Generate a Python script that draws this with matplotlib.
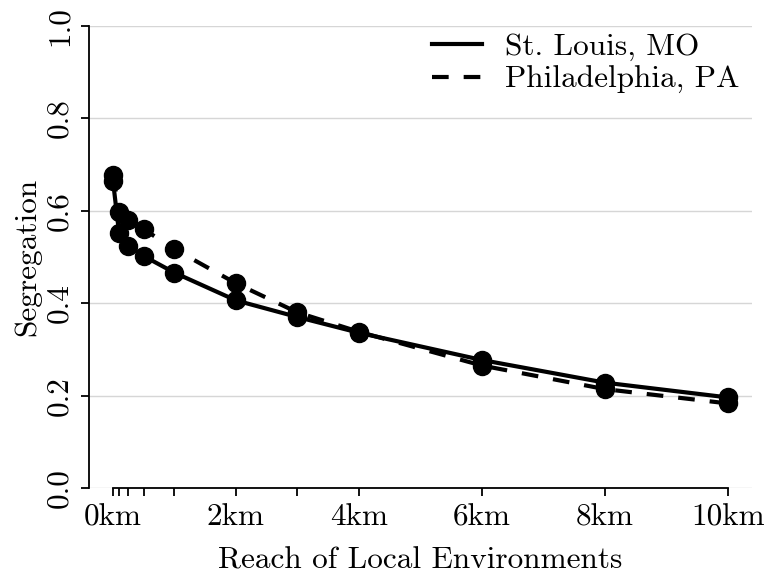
import matplotlib
matplotlib.use("Agg")
import matplotlib.pyplot as plt

# reach of local environments (km)
reach = [0, 0.1, 0.25, 0.5, 1, 2, 3, 4, 6, 8, 10]
seg_stlouis = [0.665, 0.551, 0.524, 0.502, 0.466, 0.406, 0.370, 0.336, 0.277, 0.228, 0.196]
seg_philly = [0.677, 0.598, 0.580, 0.560, 0.517, 0.443, 0.380, 0.338, 0.265, 0.214, 0.183]

x_labels = {0: "0km", 2: "2km", 4: "4km", 6: "6km", 8: "8km", 10: "10km"}
y_ticks = [0.0, 0.2, 0.4, 0.6, 0.8, 1.0]

plt.rcParams["font.family"] = ["cmr10", "DejaVu Serif"]
plt.rcParams["mathtext.fontset"] = "cm"
plt.rcParams["axes.unicode_minus"] = False

FS = 22.5
W, H = 769, 573

fig = plt.figure(figsize=(W / 100, H / 100), dpi=100)
ax = fig.add_axes([89 / W, (H - 488) / H, (752 - 89) / W, (488 - 26) / H])

lw = 3.0
ax.plot(reach, seg_stlouis, color="black", lw=lw, marker="o", ms=13,
        label="St. Louis, MO", zorder=3, clip_on=False)
ax.plot(reach, seg_philly, color="black", lw=lw, marker="o", ms=13,
        dashes=(4.0, 3.6), label="Philadelphia, PA", zorder=3, clip_on=False)

ax.set_xlim(-0.39, 10.39)
ax.set_ylim(0, 1)

ax.set_xticks(reach)
ax.set_xticklabels([x_labels.get(v, "") for v in reach])
ax.set_yticks(y_ticks)
ax.set_yticklabels([f"{v:.1f}" for v in y_ticks], rotation=90, va="center")

ax.grid(axis="y", color="#d6d6d6", lw=1.0)
ax.set_axisbelow(True)

for s in ("top", "right"):
    ax.spines[s].set_visible(False)
ax.spines["bottom"].set_bounds(0, 10)
ax.spines["left"].set_bounds(0, 1)
for s in ("bottom", "left"):
    ax.spines[s].set_linewidth(1.3)

ax.tick_params(axis="both", length=6, width=1.3, labelsize=FS)
ax.tick_params(axis="x", pad=5)
ax.tick_params(axis="y", pad=5)

ax.set_xlabel("Reach of Local Environments", fontsize=FS, labelpad=11)
ax.set_ylabel("Segregation", fontsize=FS, labelpad=3)

leg = fig.legend(handles=ax.get_lines(), loc="upper left",
                 bbox_to_anchor=(432 / W, 1 - 33 / H), frameon=False,
                 fontsize=FS, handlelength=1.6, handletextpad=0.75,
                 labelspacing=0.16, borderpad=0, borderaxespad=0)
for h in leg.legend_handles:
    h.set_marker("")

fig.savefig("out.png", dpi=100)
